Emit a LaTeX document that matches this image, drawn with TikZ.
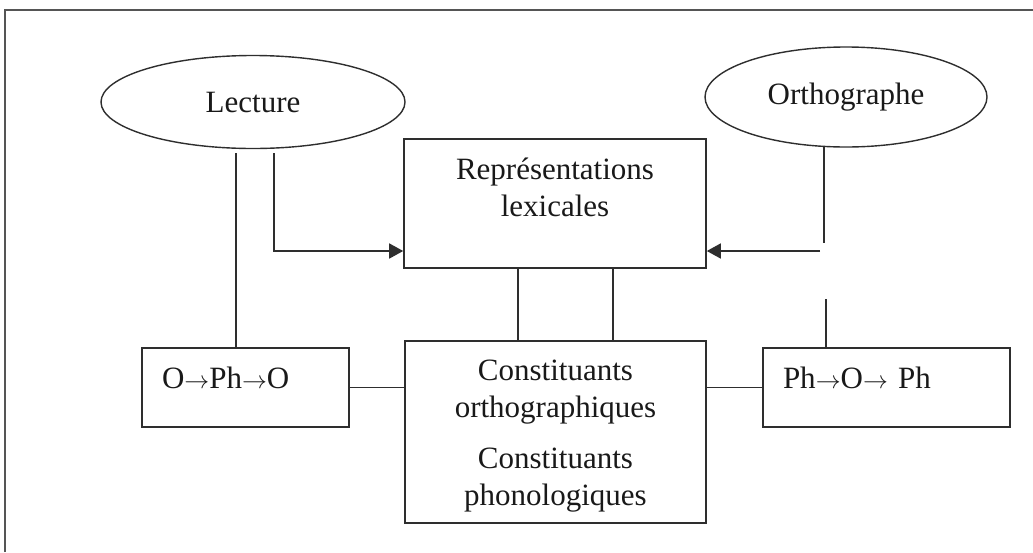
\documentclass[tikz,border=0pt]{standalone}
\usepackage{fontspec}
\setmainfont{Liberation Serif}
\usepackage{tikz}
\usetikzlibrary{shapes.geometric, arrows.meta, positioning, calc}
\definecolor{linedraw}{HTML}{2E2E2E}
\definecolor{framedraw}{HTML}{555555}
\newcommand{\fl}{\ensuremath{\rightarrow}}
\tikzset{
  txt/.style={font=\fontsize{31}{37}\selectfont, text=black!90},
  ovl/.style={ellipse, draw=linedraw, line width=1.4pt, txt, inner sep=0pt},
  blk/.style={rectangle, draw=linedraw, line width=1.6pt, txt, align=center, inner ysep=0pt},
  lbox/.style={rectangle, draw=linedraw, line width=1.6pt, txt, align=left, inner xsep=20pt, inner ysep=0pt, text height=40pt, text depth=39pt},
  conn/.style={line width=1.6pt, draw=linedraw},
  arr/.style={conn, -{Triangle[length=14pt, width=15pt]}},
}

\begin{document}
\begin{tikzpicture}[x=1pt, y=-1pt]
  \useasboundingbox (0,0) rectangle (1033,552);
  \draw[line width=1.5pt, framedraw] (5,552) -- (5,10) -- (1033,10);

  \node[ovl, minimum width=304pt, minimum height=93pt] (lect) at (253,102) {Lecture};
  \node[ovl, minimum width=282pt, minimum height=100pt] (orth) at (846,97) {Orthographe};
  \node[blk, minimum width=302pt, text height=77pt, text depth=52pt] (replex) at (555,203.5) {Représentations\\lexicales};
  \node[blk, minimum width=301pt, text height=164pt, text depth=18pt] (const) at (555.5,432) {Constituants\\orthographiques\\[14pt]Constituants\\phonologiques};
  \node[lbox, text width=167pt] (oph) at (245.5,387.5) {O\fl Ph\fl O};
  \node[lbox, text width=207pt] (pho) at (886.5,387.5) {Ph\fl O\fl\ Ph};

  % loose ends of the connectors
  \coordinate (lA) at (236,153);
  \coordinate (lB) at (274,153);
  \coordinate (rA) at (824,147);
  \coordinate (rB) at (824,243);
  \coordinate (rC) at (820,251);
  \coordinate (rD) at (826,299);
  \coordinate (mA) at (518,300);
  \coordinate (mB) at (613,300);

  \draw[conn] (lA) -- (lA |- oph.north);
  \draw[arr] (lB) |- (replex.west |- rC);
  \draw[conn] (rA) -- (rB);
  \draw[arr] (rC) -- (replex.east |- rC);
  \draw[conn] (rD) -- (rD |- pho.north);
  \draw[conn] (replex.south -| mA) -- (const.north -| mA);
  \draw[conn] (replex.south -| mB) -- (const.north -| mB);
  \draw[conn] (oph) -- (const.west |- oph);
  \draw[conn] (pho) -- (const.east |- pho);
\end{tikzpicture}
\end{document}
